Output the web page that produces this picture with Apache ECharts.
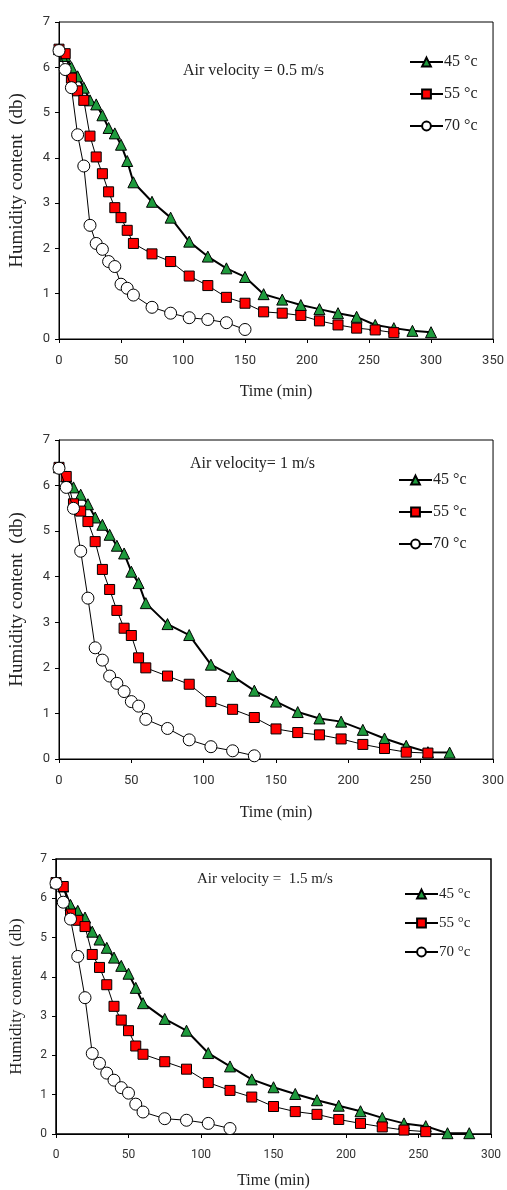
<!DOCTYPE html>
<html>
<head>
<meta charset="utf-8">
<script src="https://cdn.jsdelivr.net/npm/echarts@6/dist/echarts.min.js"></script>
<style>
  html, body { margin: 0; padding: 0; background: #fff; }
  #main { width: 507px; height: 1190px; }
</style>
</head>
<body>
<div id="main"></div>
<script>
// time (min) and humidity content (db), one array per curve
// air velocity 0.5 m/s
let t45a = [0,5,10,15,20,25,30,35,40,45,50,55,60,75,90,105,120,135,150,165,180,195,210,225,240,255,270,285,300];
let h45a = [6.4,6.25,6.0,5.8,5.55,5.27,5.18,4.94,4.66,4.54,4.29,3.93,3.46,3.03,2.68,2.15,1.82,1.56,1.37,0.99,0.87,0.75,0.66,0.57,0.49,0.31,0.24,0.18,0.15];
let t55a = [0,5,10,15,20,25,30,35,40,45,50,55,60,75,90,105,120,135,150,165,180,195,210,225,240,255,270];
let h55a = [6.4,6.3,5.76,5.48,5.27,4.48,4.02,3.65,3.25,2.9,2.68,2.4,2.11,1.88,1.71,1.39,1.18,0.92,0.79,0.6,0.57,0.52,0.4,0.31,0.24,0.2,0.14];
let t70a = [0,5,10,15,20,25,30,35,40,45,50,55,60,75,90,105,120,135,150];
let h70a = [6.37,5.95,5.55,4.51,3.82,2.51,2.11,1.98,1.71,1.6,1.21,1.12,0.97,0.7,0.57,0.47,0.43,0.36,0.21];

// air velocity 1 m/s
let t45b = [0,5,10,15,20,25,30,35,40,45,50,55,60,75,90,105,120,135,150,165,180,195,210,225,240,255,270];
let h45b = [6.4,6.2,5.96,5.8,5.59,5.3,5.14,4.92,4.68,4.51,4.11,3.86,3.42,2.96,2.72,2.07,1.82,1.5,1.26,1.03,0.89,0.82,0.64,0.45,0.29,0.15,0.14];
let t55b = [0,5,10,15,20,25,30,35,40,45,50,55,60,75,90,105,120,135,150,165,180,195,210,225,240,255];
let h55b = [6.4,6.2,5.6,5.44,5.21,4.77,4.16,3.72,3.26,2.87,2.71,2.22,2.0,1.82,1.64,1.26,1.09,0.91,0.66,0.58,0.53,0.44,0.32,0.23,0.15,0.13];
let t70b = [0,5,10,15,20,25,30,35,40,45,50,55,60,75,90,105,120,135];
let h70b = [6.38,5.96,5.5,4.56,3.53,2.44,2.17,1.82,1.66,1.48,1.26,1.16,0.87,0.67,0.42,0.27,0.18,0.07];

// air velocity 1.5 m/s
let t45c = [0,5,10,15,20,25,30,35,40,45,50,55,60,75,90,105,120,135,150,165,180,195,210,225,240,255,270,285];
let h45c = [6.4,6.3,5.83,5.68,5.51,5.15,4.95,4.74,4.49,4.28,4.08,3.72,3.33,2.93,2.63,2.06,1.72,1.39,1.19,1.02,0.86,0.72,0.58,0.41,0.27,0.2,0.02,0.02];
let t55c = [0,5,10,15,20,25,30,35,40,45,50,55,60,75,90,105,120,135,150,165,180,195,210,225,240,255];
let h55c = [6.4,6.3,5.6,5.44,5.28,4.57,4.24,3.8,3.25,2.9,2.63,2.24,2.03,1.84,1.65,1.31,1.11,0.94,0.7,0.57,0.5,0.37,0.27,0.18,0.1,0.06];
let t70c = [0,5,10,15,20,25,30,35,40,45,50,55,60,75,90,105,120];
let h70c = [6.38,5.9,5.47,4.52,3.47,2.05,1.8,1.55,1.37,1.18,1.04,0.76,0.56,0.39,0.35,0.27,0.14];

let names = ['45 °c', '55 °c', '70 °c'];
let velocityText = ['Air velocity = 0.5 m/s', 'Air velocity= 1 m/s', 'Air velocity =  1.5 m/s'];
let xMax = [350, 300, 300];
let yTicks = [0, 7, 1];   // min, max, interval

(function(){
    let serif = "Liberation Serif, DejaVu Serif, serif";
    let narrow = "Liberation Sans Narrow, Roboto, Liberation Sans, sans-serif";

    function pairs(t, h){
        return t.map((x, i)=>[x, h[i]]);
    }

    // pixel layout of the three panels
    let grids = [
        {left: 56, top: 22, width: 439, height: 317, show: true, borderColor: '#000', borderWidth: 1},
        {left: 50, top: 440, width: 446, height: 319, show: true, borderColor: '#000', borderWidth: 1},
        {left: 53, top: 859, width: 438, height: 282, show: true, borderColor: '#000', borderWidth: 1.5}
    ];
    let nameGapX = [45, 46, 39];
    let nameGapY = [32, 32, 31];
    let labelSize = [13, 13, 12];

    let xAxes = [], yAxes = [];
    for( let i=0; i<3; i++ ){
        xAxes.push({
            type: 'value', gridIndex: i, min: 0, max: xMax[i], interval: 50,
            name: 'Time (min)', nameLocation: 'middle', nameGap: nameGapX[i],
            nameTextStyle: {fontFamily: serif, fontSize: 16, color: '#222'},
            axisLine: {lineStyle: {color: '#000', width: 1}},
            axisTick: {length: 4, lineStyle: {color: '#000'}},
            axisLabel: {fontFamily: narrow, fontSize: labelSize[i], color: '#333', margin: 15},
            splitLine: {show: false}
        });
        yAxes.push({
            type: 'value', gridIndex: i, min: yTicks[0], max: yTicks[1], interval: yTicks[2],
            name: 'Humidity content  (db)', nameLocation: 'middle', nameGap: nameGapY[i], nameRotate: 90,
            nameTextStyle: {fontFamily: serif, fontSize: i==2 ? 17 : 19, color: '#222'},
            axisLine: {lineStyle: {color: '#000', width: 1}},
            axisTick: {length: 4, lineStyle: {color: '#000'}},
            axisLabel: {fontFamily: narrow, fontSize: labelSize[i], color: '#333', margin: 9},
            splitLine: {show: false}
        });
    }

    let allData = [
        [pairs(t45a, h45a), pairs(t55a, h55a), pairs(t70a, h70a)],
        [pairs(t45b, h45b), pairs(t55b, h55b), pairs(t70b, h70b)],
        [pairs(t45c, h45c), pairs(t55c, h55c), pairs(t70c, h70c)]
    ];
    let styles = [
        {symbol: 'triangle', symbolSize: 11, color: '#1e9a3c', width: 2},
        {symbol: 'rect', symbolSize: 10, color: '#ff0000', width: 1},
        {symbol: 'circle', symbolSize: 12, color: '#ffffff', width: 1}
    ];

    let series = [];
    allData.forEach((group, g)=>{
        group.forEach((data, s)=>{
            let st = styles[s];
            series.push({
                name: names[s], type: 'line', xAxisIndex: g, yAxisIndex: g,
                data: data, symbol: st.symbol, symbolSize: st.symbolSize,
                showAllSymbol: true, animation: false,
                lineStyle: {color: '#000', width: st.width},
                itemStyle: {color: st.color, borderColor: '#000', borderWidth: 1, opacity: 1},
                z: 2 + s
            });
        });
    });

    let legends = [
        {left: 404, top: 48, itemGap: 14, fontSize: 16},
        {left: 393, top: 466, itemGap: 14, fontSize: 16},
        {left: 399, top: 880, itemGap: 11, fontSize: 15}
    ].map((l)=>({
        orient: 'vertical', left: l.left, top: l.top, itemGap: l.itemGap,
        itemWidth: 33, itemHeight: 11, data: names, selectedMode: false,
        textStyle: {fontFamily: serif, fontSize: l.fontSize, lineHeight: 18, color: '#222', padding: [0, 0, 0, -4]}
    }));

    let notes = [
        {left: 183, top: 63, size: 16},
        {left: 190, top: 456, size: 16},
        {left: 197, top: 872, size: 15}
    ].map((n, i)=>({
        type: 'text', left: n.left, top: n.top,
        style: {text: velocityText[i], font: n.size + 'px ' + serif, fill: '#222'}
    }));

    let chart = echarts.init(document.getElementById('main'));
    chart.setOption({
        backgroundColor: '#fff',
        animation: false,
        grid: grids,
        xAxis: xAxes,
        yAxis: yAxes,
        legend: legends,
        graphic: notes,
        series: series
    });
})();
</script>
</body>
</html>
